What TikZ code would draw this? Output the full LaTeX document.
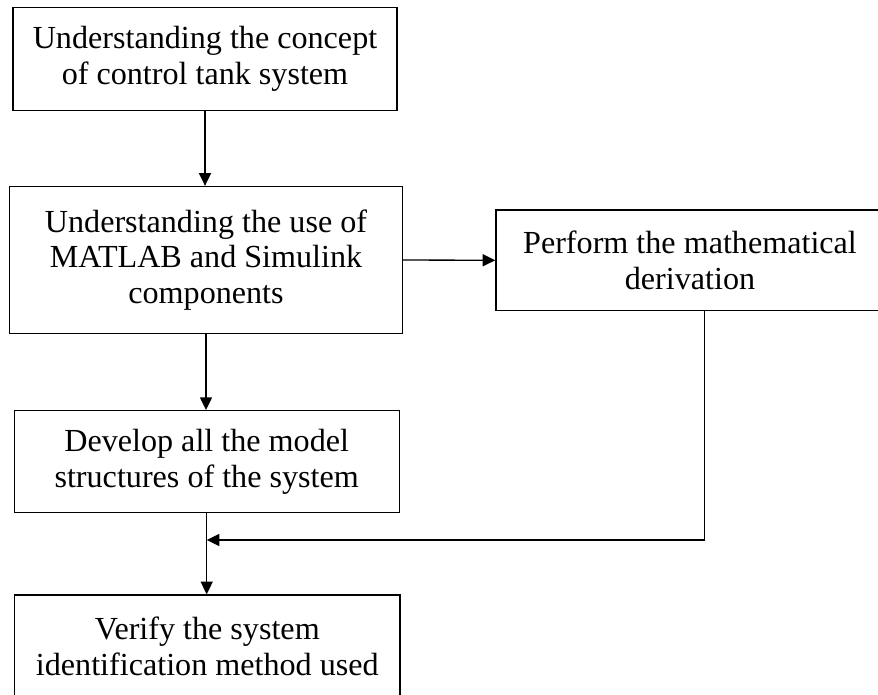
\documentclass[tikz,border=0pt]{standalone}
\usepackage{fontspec}
\setmainfont{Liberation Serif}
\usetikzlibrary{arrows.meta}
\begin{document}
\begin{tikzpicture}[x=0.75pt,y=-0.75pt,
  box/.style={draw,line width=1pt,inner sep=0pt,align=center,
    font=\fontsize{24.1}{26.8}\selectfont},
  conn/.style={line width=1pt},
  arr/.style={conn,-{Triangle[length=9.5pt,width=9pt]}}]
\useasboundingbox (0,0) rectangle (878,695);
\node[box,minimum width=288pt,minimum height=77.25pt] (b1) at (205,59)
  {Understanding the concept\\of control tank system};
\node[box,minimum width=294.75pt,minimum height=110.25pt] (b2) at (206,260)
  {Understanding the use of\\MATLAB and Simulink\\components};
\node[box,minimum width=291pt,minimum height=75.5pt] (b3) at (690,260.3)
  {Perform the mathematical\\derivation};
\node[box,minimum width=288.75pt,minimum height=76.5pt] (b4) at (206.7,461.7)
  {Develop all the model\\structures of the system};
\node[box,minimum width=289pt,minimum height=76.5pt] (b5) at (207.3,646)
  {Verify the system\\identification method used};
\coordinate (j) at (206.7,540);
\coordinate (fb) at (704.3,310.7);
\draw[arr] (b1.south) -- (b1.south |- b2.north);
\draw[arr] (b2.east) -- (b3.west);
\draw[arr] (b2.south) -- (b2.south |- b4.north);
\draw[arr] (b4.south) -- (b4.south |- b5.north);
\draw[arr] (fb) |- (j);
\end{tikzpicture}
\end{document}
